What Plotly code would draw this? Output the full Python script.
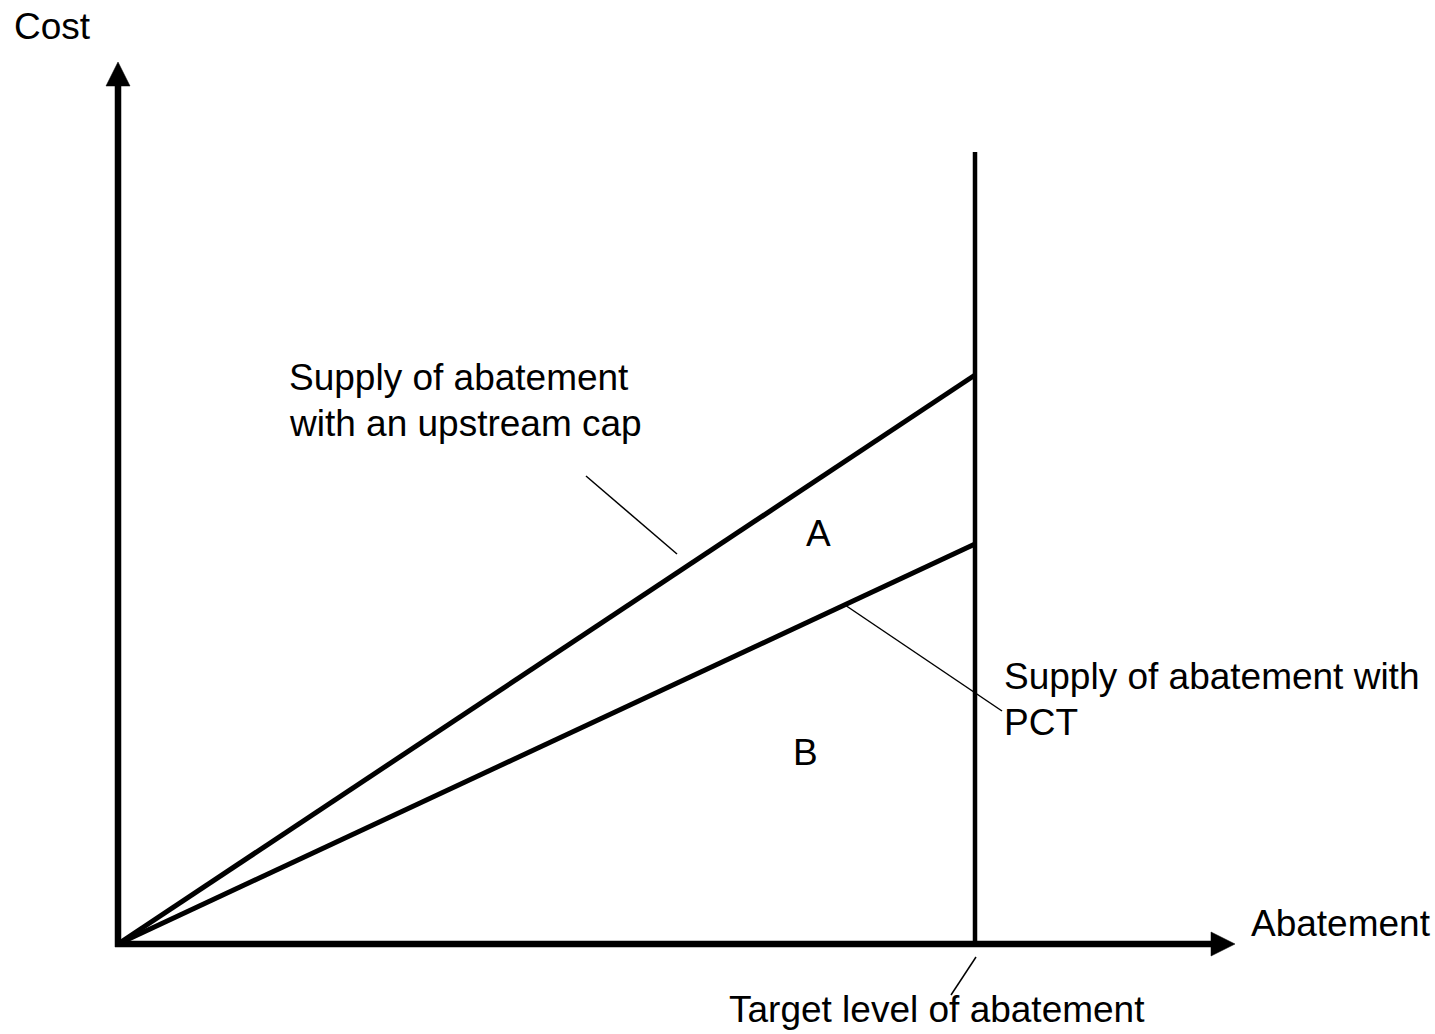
import plotly.graph_objects as go

# ---- data (chart units, origin at the corner of the axes) ----
target_abatement = 857          # x position of the target level
cost_upstream_at_target = 569   # supply with an upstream cap, cost at target
cost_pct_at_target = 400        # supply with PCT, cost at target
target_line_top = 792           # top of the vertical target line
x_axis_end = 1117
y_axis_end = 882

upstream_x = [0, target_abatement]
upstream_y = [0, cost_upstream_at_target]
pct_x = [0, target_abatement]
pct_y = [0, cost_pct_at_target]

# labels: (text, x, y, xanchor)
label_texts = ["Cost", "Supply of abatement", "with an upstream cap", "A", "B",
               "Supply of abatement with", "PCT", "Abatement", "Target level of abatement"]
label_x = [-105, 170, 170, 700, 687.5, 885, 885, 1132, 610]
label_y = [917.5, 567, 521, 410.5, 191.5, 267.5, 221.5, 20.5, -65]
label_anchor = ["left", "left", "left", "center", "center", "left", "left", "left", "left"]

# leader lines from labels to curves: (x0, y0, x1, y1)
leader_x0 = [468, 727, 858]
leader_y0 = [468, 339, -13]
leader_x1 = [559, 884, 833]
leader_y1 = [390, 233, -51]

FONT = "Liberation Sans, Arial, sans-serif"
FS = 37
HEAD_LEN = 24
HEAD_HALF = 12

fig = go.Figure()

# axes
fig.add_trace(go.Scatter(x=[0, 0], y=[-3, y_axis_end - HEAD_LEN + 1], mode="lines",
                         line=dict(color="black", width=6.5), hoverinfo="skip"))
fig.add_trace(go.Scatter(x=[-3, x_axis_end - HEAD_LEN + 1], y=[0, 0], mode="lines",
                         line=dict(color="black", width=6.5), hoverinfo="skip"))
# arrowheads
fig.add_trace(go.Scatter(x=[-HEAD_HALF, 0, HEAD_HALF, -HEAD_HALF],
                         y=[y_axis_end - HEAD_LEN, y_axis_end, y_axis_end - HEAD_LEN, y_axis_end - HEAD_LEN],
                         mode="lines", fill="toself", fillcolor="black",
                         line=dict(color="black", width=0.5), hoverinfo="skip"))
fig.add_trace(go.Scatter(x=[x_axis_end - HEAD_LEN, x_axis_end, x_axis_end - HEAD_LEN, x_axis_end - HEAD_LEN],
                         y=[-HEAD_HALF, 0, HEAD_HALF, -HEAD_HALF],
                         mode="lines", fill="toself", fillcolor="black",
                         line=dict(color="black", width=0.5), hoverinfo="skip"))

# target vertical line
fig.add_trace(go.Scatter(x=[target_abatement, target_abatement], y=[0, target_line_top],
                         mode="lines", line=dict(color="black", width=4.5), hoverinfo="skip"))

# supply curves
fig.add_trace(go.Scatter(x=upstream_x, y=upstream_y, mode="lines",
                         line=dict(color="black", width=5), hoverinfo="skip"))
fig.add_trace(go.Scatter(x=pct_x, y=pct_y, mode="lines",
                         line=dict(color="black", width=5), hoverinfo="skip"))

# leader lines
for x0, y0, x1, y1 in zip(leader_x0, leader_y0, leader_x1, leader_y1):
    fig.add_trace(go.Scatter(x=[x0, x1], y=[y0, y1], mode="lines",
                             line=dict(color="black", width=1.5), hoverinfo="skip"))

for t, x, y, a in zip(label_texts, label_x, label_y, label_anchor):
    fig.add_annotation(x=x, y=y, text=t, showarrow=False, xanchor=a, yanchor="middle",
                       borderpad=0, font=dict(family=FONT, size=FS, color="black"))

fig.update_layout(
    width=1435, height=1034,
    margin=dict(l=0, r=0, t=0, b=0),
    paper_bgcolor="white", plot_bgcolor="white",
    showlegend=False,
    xaxis=dict(range=[-118, 1317], visible=False, fixedrange=True),
    yaxis=dict(range=[-90, 944], visible=False, fixedrange=True),
)

fig.write_html("out.html", config={"displayModeBar": False},
               post_script="document.body.style.margin='0';")
